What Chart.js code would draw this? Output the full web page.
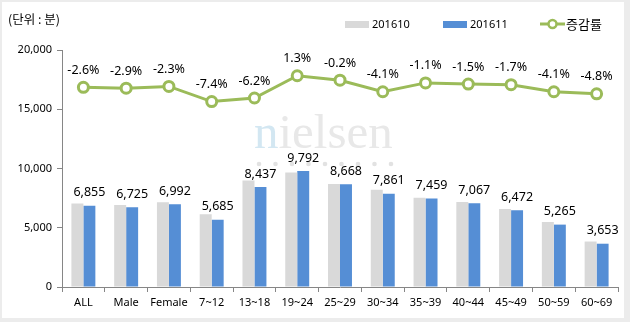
<!DOCTYPE html>
<html>
<head>
<meta charset="utf-8">
<script src="https://cdn.jsdelivr.net/npm/chart.js@4"></script>
<style>
  html, body { margin: 0; padding: 0; background: #ececec; }
  #moldura { position: absolute; left: 2px; top: 2px; width: 622px; height: 316px; background: #fff; }
  #grafico { position: absolute; left: 0; top: 0; }
</style>
</head>
<body>
<div id="moldura"></div>
<canvas id="grafico" width="630" height="322"></canvas>
<script>
// --- DADOS ---
const categorias = ['ALL', 'Male', 'Female', '7~12', '13~18', '19~24', '25~29', '30~34', '35~39', '40~44', '45~49', '50~59', '60~69'];
const valores201610 = [7038, 6926, 7157, 6139, 8995, 9666, 8685, 8197, 7542, 7175, 6584, 5490, 3837];
const valores201611 = [6855, 6725, 6992, 5685, 8437, 9792, 8668, 7861, 7459, 7067, 6472, 5265, 3653];
const taxas = [-2.6, -2.9, -2.3, -7.4, -6.2, 1.3, -0.2, -4.1, -1.1, -1.5, -1.7, -4.1, -4.8];
const ticksY = [0, 5000, 10000, 15000, 20000];

const fonteNum = '"Noto Sans", "Liberation Sans", sans-serif';
const fonteKr = '"Noto Sans CJK KR", sans-serif';
const cores = { cinza: '#d9d9d9', azul: '#558ed5', verde: '#9bbb59', eixo: '#868686' };

const fmt = v => v.toLocaleString('en-US');

// marca d'agua + titulo + legenda desenhados a mao
const extras = {
    id: 'extras',
    beforeDatasetsDraw(chart) {
        const ctx = chart.ctx;
        ctx.save();
        ctx.font = '49px "Liberation Serif", serif';
        ctx.textBaseline = 'alphabetic';
        ctx.textAlign = 'left';
        ctx.fillStyle = '#d3e7f2';
        ctx.fillText('n', 254, 148);
        const w = ctx.measureText('n').width;
        ctx.fillStyle = '#e8e8e8';
        ctx.fillText('ielsen', 254 + w, 148);
        ctx.fillStyle = '#e2e2e2';
        for (let i = 0; i < 9; i++) {
            ctx.beginPath();
            ctx.arc(259 + i * 16.5, 164, 2.3, 0, Math.PI * 2);
            ctx.fill();
        }
        ctx.restore();
    },
    afterDatasetsDraw(chart) {
        const ctx = chart.ctx;
        ctx.save();
        ctx.fillStyle = '#000';
        ctx.textAlign = 'center';
        ctx.textBaseline = 'middle';

        // rotulos das barras
        ctx.font = '12.5px ' + fonteNum;
        chart.getDatasetMeta(1).data.forEach((bar, i) => {
            ctx.fillText(fmt(valores201611[i]), bar.x, bar.y - 13);
        });

        // rotulos da linha
        chart.getDatasetMeta(2).data.forEach((pt, i) => {
            ctx.fillText(taxas[i].toFixed(1) + '%', pt.x, pt.y - 17);
        });

        // titulo
        ctx.textAlign = 'left';
        ctx.font = '12.5px ' + fonteKr;
        ctx.fillText('(단위 : 분)', 8, 19);

        // legenda
        ctx.fillStyle = cores.cinza;
        ctx.fillRect(345, 21, 24, 7);
        ctx.fillStyle = cores.azul;
        ctx.fillRect(443, 21, 24, 7);
        ctx.fillStyle = '#000';
        ctx.font = '11px ' + fonteNum;
        ctx.fillText('201610', 372, 25);
        ctx.fillText('201611', 470, 25);
        ctx.strokeStyle = cores.verde;
        ctx.lineWidth = 3;
        ctx.beginPath();
        ctx.moveTo(540, 24);
        ctx.lineTo(565, 24);
        ctx.stroke();
        ctx.fillStyle = '#fff';
        ctx.lineWidth = 2.5;
        ctx.beginPath();
        ctx.arc(552.5, 24, 4, 0, Math.PI * 2);
        ctx.fill();
        ctx.stroke();
        ctx.fillStyle = '#000';
        ctx.font = '13px ' + fonteKr;
        ctx.fillText('증감률', 566, 24);
        ctx.restore();
    }
};

new Chart(document.getElementById('grafico'), {
    type: 'bar',
    data: {
        labels: categorias,
        datasets: [
            { label: '201610', data: valores201610, backgroundColor: cores.cinza, order: 1, yAxisID: 'y' },
            { label: '201611', data: valores201611, backgroundColor: cores.azul, order: 2, yAxisID: 'y' },
            {
                type: 'line', label: '증감률', data: taxas, yAxisID: 'y2', order: 0,
                borderColor: cores.verde, borderWidth: 3, tension: 0,
                pointRadius: 5, pointBorderWidth: 3, pointBackgroundColor: '#fff', pointBorderColor: cores.verde
            }
        ]
    },
    options: {
        responsive: false,
        animation: false,
        layout: { padding: { left: 0, top: 50, right: 12, bottom: 0 } },
        datasets: { bar: { categoryPercentage: 0.56, barPercentage: 1.0 } },
        plugins: { legend: { display: false }, tooltip: { enabled: false } },
        scales: {
            x: {
                grid: { drawOnChartArea: false, drawTicks: true, tickLength: 5, color: cores.eixo, offset: true },
                border: { color: cores.eixo },
                ticks: { color: '#000', font: { family: fonteNum, size: 11 }, padding: 4, maxRotation: 0, autoSkip: false },
                afterFit: s => { s.height = 35; }
            },
            y: {
                min: 0, max: 20000,
                afterBuildTicks: s => { s.ticks = ticksY.map(v => ({ value: v })); },
                grid: { drawOnChartArea: false, drawTicks: true, tickLength: 5, color: cores.eixo },
                border: { color: cores.eixo },
                ticks: { color: '#000', font: { family: fonteNum, size: 11 }, padding: 5, callback: v => fmt(v) },
                afterFit: s => { s.width = 62; }
            },
            y2: { display: false, min: -70, max: 10 }
        }
    },
    plugins: [extras]
});
</script>
</body>
</html>
